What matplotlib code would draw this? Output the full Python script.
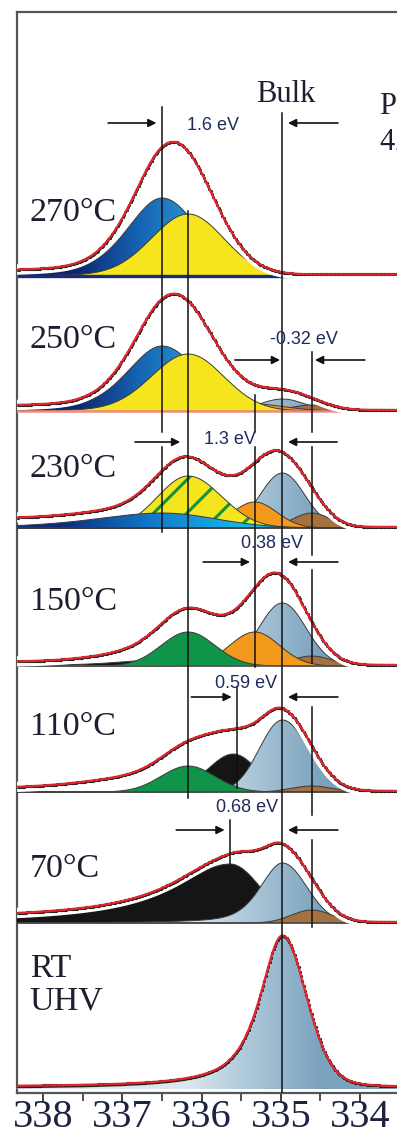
import numpy as np
import matplotlib
matplotlib.use("Agg")
import matplotlib.pyplot as plt
from matplotlib.colors import LinearSegmentedColormap
from matplotlib.ticker import MultipleLocator

plt.rcParams['font.family'] = ['Liberation Serif', 'DejaVu Serif']
plt.rcParams['hatch.linewidth'] = 2.2
plt.rcParams['hatch.color'] = '#12913f'

# ---------------- data (binding energy in eV, intensities in arbitrary units) ----------------
panel_labels = ["270\u00b0C", "250\u00b0C", "230\u00b0C", "150\u00b0C", "110\u00b0C", "70\u00b0C", "RT\nUHV"]
# component: (kind, centre eV, height, hwhm_left, hwhm_right, lorentz_left, lorentz_right)
comp_270 = [("blue", 336.50, 78, 0.52, 0.54, 0.35, 0.0),
            ("yellow", 336.17, 62, 0.55, 0.53, 0.10, 0.0)]
comp_250 = [("lightblue", 334.98, 12, 0.33, 0.33, 0.0, 0.0),
            ("brown", 334.61, 6, 0.30, 0.30, 0.0, 0.0),
            ("orange", 335.33, 7, 0.45, 0.45, 0.0, 0.0),
            ("blue", 336.50, 65, 0.52, 0.54, 0.35, 0.0),
            ("yellow", 336.17, 57, 0.55, 0.53, 0.10, 0.0)]
comp_230 = [("lightblue", 334.98, 55, 0.33, 0.33, 0.0, 0.0),
            ("brown", 334.61, 15, 0.28, 0.28, 0.0, 0.0),
            ("orange", 335.33, 26, 0.33, 0.33, 0.0, 0.0),
            ("hatched", 336.17, 52, 0.45, 0.50, 0.0, 0.0),
            ("blue2", 336.50, 15, 1.00, 0.80, 0.5, 0.0)]
comp_150 = [("black", 336.10, 8, 0.90, 0.60, 0.3, 0.0),
            ("lightblue", 334.98, 63, 0.35, 0.35, 0.0, 0.0),
            ("brown", 334.61, 10, 0.30, 0.30, 0.0, 0.0),
            ("orange", 335.33, 34, 0.37, 0.37, 0.0, 0.0),
            ("green", 336.17, 34, 0.40, 0.40, 0.0, 0.0)]
comp_110 = [("black", 335.60, 38, 0.38, 0.35, 0.15, 0.0),
            ("lightblue", 334.98, 72, 0.34, 0.38, 0.0, 0.0),
            ("brown", 334.61, 6, 0.30, 0.30, 0.0, 0.0),
            ("green", 336.17, 26, 0.40, 0.40, 0.0, 0.0)]
comp_70 = [("black", 335.64, 59, 0.88, 0.45, 1.0, 0.0),
           ("lightblue", 334.98, 60, 0.33, 0.36, 0.5, 0.0),
           ("brown", 334.61, 13, 0.30, 0.30, 0.0, 0.0)]
comp_rt = [("lightblue", 334.98, 152, 0.34, 0.36, 0.8, 0.2)]
components = [comp_270, comp_250, comp_230, comp_150, comp_110, comp_70, comp_rt]
# background under the measured envelope: Shirley step (left, right) + broad unresolved part
bg_left = [4, 4, 8, 4, 4, 4, 2]
bg_right = [1.5, 1, 1, 1, 1, 1, 1]
bgx_center = [336.3, 336.3, 336.3, 336.2, 336.4, 336.3, 335.0]
bgx_height = [0, 0, 0, 12, 14, 0, 0]
bgx_width = [1.0, 1.0, 1.0, 0.9, 1.0, 1.0, 1.0]

shift_labels = ["1.6 eV", "-0.32 eV", "1.3 eV", "0.38 eV", "0.59 eV", "0.68 eV"]
x_ticks = [338, 337, 336, 335, 334]

# ---------------- layout ----------------
baselines = [817, 682, 565, 427, 301, 170, 4]
label_pos = [(338.17, 880), (338.17, 753), (338.17, 624), (338.17, 491), (338.17, 366), (338.17, 224), (338.17, 108)]
baseline_style = [('#1b2b78', 2.4), ('#ee8a80', 1.8), ('#3c3c3c', 1.3), ('#555555', 1.2),
                  ('#444444', 1.2), ('#444444', 1.2), (None, 0)]

fills = {
    "blue": dict(grad=['#2b9ad6', '#1563b2', '#0c2670'], span=(-0.5, 1.1)),
    "blue2": dict(grad=['#19b5ea', '#1278c8', '#0b2c7e'], span=(-1.0, 1.3)),
    "lightblue": dict(grad=['#7aa2bd', '#a9c5d7', '#dae7ef'], span=(-0.5, 1.2)),
    "yellow": dict(color='#f6e41c'),
    "hatched": dict(color='#f4e51e', hatch='/'),
    "orange": dict(color='#f39a1d'),
    "green": dict(color='#10944a'),
    "brown": dict(color='#a4713f'),
    "black": dict(color='#151515'),
}

E = np.linspace(333.37, 338.33, 900)


def shape(x, c, h, wl, wr, ml, mr):
    d = x - c
    w = np.where(d > 0, wl, wr)
    m = np.where(d > 0, ml, mr)
    u = (d / w) ** 2
    return h * ((1 - m) * np.exp(-np.log(2) * u) + m / (1 + u))


fig = plt.figure(figsize=(3.97, 11.36), dpi=100)
W, H = 397.0, 1136.0
ax = fig.add_axes([17 / W, (H - 1093) / H, (410 - 17) / W, (1093 - 11.5) / H])

z = 2
for i, comps in enumerate(components):
    y0 = baselines[i]
    bcol, blw = baseline_style[i]
    total = np.zeros_like(E)
    for kind, c, h, wl, wr, ml, mr in comps:
        prof = shape(E, c, h, wl, wr, ml, mr)
        total += prof
        top = y0 + prof
        st = fills[kind]
        if 'grad' in st:
            poly = ax.fill_between(E, y0, top, facecolor='none', edgecolor='none', zorder=z)
            e_r, e_l = c + st['span'][0], c + st['span'][1]
            xs = np.linspace(E.min(), E.max(), 600)
            t = np.clip((xs - e_r) / (e_l - e_r), 0, 1)
            cmap = LinearSegmentedColormap.from_list('g', st['grad'])
            im = ax.imshow(t[None, :], cmap=cmap, vmin=0, vmax=1,
                           extent=[E.min(), E.max(), y0, top.max() + 1],
                           origin='lower', aspect='auto', interpolation='bilinear', zorder=z)
            im.set_clip_path(poly.get_paths()[0], transform=ax.transData)
        elif 'hatch' in st:
            ax.fill_between(E, y0, top, facecolor=st['color'], edgecolor='#12913f',
                            hatch=st['hatch'], linewidth=0, zorder=z)
        else:
            ax.fill_between(E, y0, top, facecolor=st['color'], edgecolor='none', zorder=z)
        ax.plot(E, top, color='#3a3a3a', lw=0.7, zorder=z + 0.1)
        z += 0.2
    extra = shape(E, bgx_center[i], bgx_height[i], bgx_width[i], bgx_width[i], 0, 0)
    cum = np.cumsum(total + extra)
    cum = cum / cum[-1]
    bg = bg_right[i] + (bg_left[i] - bg_right[i]) * cum
    env = y0 + total + extra + bg
    if bcol is not None:
        ax.axhline(y0, color=bcol, lw=blw, zorder=z)
    if comps is not comp_rt:
        ax.plot(E, env, color='white', lw=7.5, zorder=20, solid_capstyle='butt')
    ax.plot(E[::3], env[::3], 'o', color='#222222', ms=2.3, mec='none', zorder=21)
    ax.plot(E, env, color='#e3262e', lw=1.6, zorder=22)

# panel labels
for lab, (xe, yy) in zip(panel_labels, label_pos):
    ax.text(xe, yy, lab, fontsize=24.5, color='#1e1e30', ha='left', va='center',
            linespacing=1.05, zorder=30)

# vertical guide lines (eV, y_top, y_bottom)
vlines = [(336.50, 986, 661), (336.50, 646, 561), (336.17, 882, 295), (334.98, 980, 0),
          (334.61, 741, 661), (334.61, 646, 538), (334.61, 523, 430), (334.61, 386, 278),
          (334.61, 253, 166), (335.33, 698, 661), (335.33, 646, 426),
          (335.55, 406, 305), (335.64, 273, 228)]
for xe, y1, y2 in vlines:
    ax.plot([xe, xe], [y1, y2], color='#111111', lw=1.1, zorder=25)

# arrows (tail eV, tip eV, y)
arrows = [(337.18, 336.57, 970), (334.28, 334.91, 970),
          (335.58, 335.01, 733), (333.94, 334.57, 733),
          (336.84, 336.27, 651), (334.29, 334.91, 651),
          (335.98, 335.39, 531), (334.28, 334.91, 531),
          (336.13, 335.62, 396), (334.28, 334.91, 396),
          (336.32, 335.71, 263), (334.28, 334.91, 263)]
for xt, xh, yy in arrows:
    ax.annotate('', xy=(xh, yy), xytext=(xt, yy),
                arrowprops=dict(arrowstyle='-|>', color='#111111', lw=1.2,
                                mutation_scale=12, shrinkA=0, shrinkB=0), zorder=26)

shift_pos = [(335.857, 968), (334.71, 753), (335.64, 653), (335.11, 549), (335.44, 410), (335.43, 285)]
for lab, (xe, yy) in zip(shift_labels, shift_pos):
    ax.text(xe, yy, lab, fontsize=13, family=['Liberation Sans', 'DejaVu Sans'],
            color='#1f2a5e', ha='center', va='center', zorder=30)

ax.text(334.94, 999, "Bulk", fontsize=22, color='#1e1e30', ha='center', va='center', zorder=30)
ax.text(333.75, 986, "Pd 3d", fontsize=22, color='#1e1e30', ha='left', va='center', zorder=30)
ax.text(333.75, 950, "420 eV", fontsize=22, color='#1e1e30', ha='left', va='center', zorder=30)

ax.set_xlim(338.33, 333.37)
ax.set_ylim(0, 1081.5)
ax.set_yticks([])
ax.set_xticks(x_ticks)
ax.set_xticklabels([str(t) for t in x_ticks])
ax.xaxis.set_minor_locator(MultipleLocator(0.5))
ax.tick_params(axis='x', which='major', direction='out', length=7, width=1.3, color='#333333',
               labelsize=29, labelcolor='#1d2340', pad=-3)
ax.tick_params(axis='x', which='minor', direction='out', length=5.5, width=1.2, color='#333333')
for s in ['left', 'top', 'bottom', 'right']:
    ax.spines[s].set_color('#555555')
    ax.spines[s].set_linewidth(1.6)

fig.savefig('out.png', dpi=100)
